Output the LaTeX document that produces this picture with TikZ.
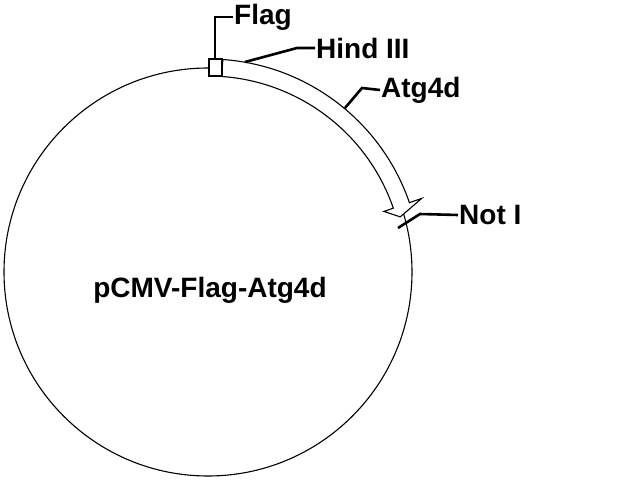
\documentclass[tikz,border=0pt]{standalone}
\usepackage{fontspec}
\setmainfont{Liberation Sans}
\usetikzlibrary{calc}
\tikzset{lbl/.style={anchor=west,inner sep=1pt,font=\bfseries\fontsize{28}{32}\selectfont},
  tick/.style={line width=2.6pt}}
\begin{document}
\begin{tikzpicture}[x=1pt,y=1pt]
    \useasboundingbox (0,0) rectangle (640,480);
    \coordinate (c) at (208,208);
    \draw[line width=1.1pt] (c) circle (204);
    \draw[line width=1.1pt,fill=white] ($(c)+(86:196)$) arc[start angle=86,end angle=19,radius=196]
        -- ($(c)+(19:186)$) -- ($(c)+(16:200)$) -- ($(c)+(19:226)$) -- ($(c)+(19:213)$)
        arc[start angle=19,end angle=86,radius=213] -- cycle;
    \draw[line width=1.1pt,fill=white] (209,404) rectangle (222,421);
    \node (plasmid) at (210,190) {\bfseries\fontsize{28}{32}\selectfont pCMV-Flag-Atg4d};
    \node[lbl] (flag) at (233,463) {Flag};
    \node[lbl] (hind) at (315,432) {Hind III};
    \node[lbl] (atg) at (380,390) {Atg4d};
    \node[lbl] (noti) at (458,265) {Not I};
    \coordinate (fbox) at (215,421);
    \coordinate (hsite) at (245,418);
    \coordinate (asite) at (345,372);
    \coordinate (nsite) at (398,252);
    \draw[tick] (fbox) |- (flag.west);
    \draw[tick] (hsite) -- (297,432) -- (hind.west);
    \draw[tick] (asite) -- (362,392) -- (atg.west);
    \draw[tick] (nsite) -- (420,266) -- (noti.west);
\end{tikzpicture}
\end{document}
